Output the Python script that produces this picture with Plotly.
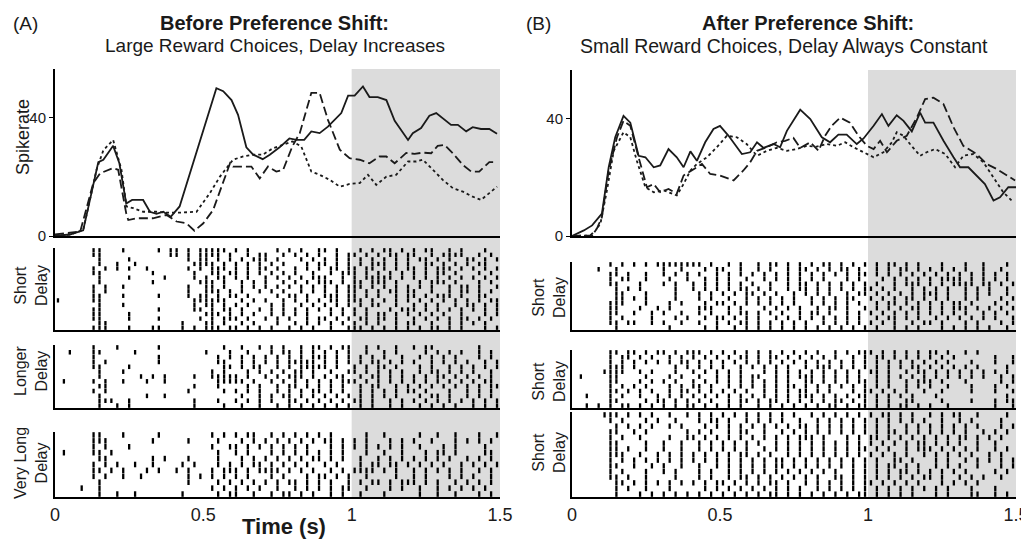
import plotly.graph_objects as go

# ---------------- PSTH data (time in s, spike rate) ----------------
left_solid_t = [0, 0.05, 0.095, 0.146, 0.163, 0.196, 0.217, 0.24, 0.26, 0.297, 0.32, 0.342, 0.365, 0.39, 0.42,
                0.544, 0.567, 0.595, 0.617, 0.645, 0.668, 0.70, 0.724, 0.757, 0.79, 0.814, 0.84, 0.864, 0.892,
                0.92, 0.965, 0.988, 1.01, 1.038, 1.06, 1.088, 1.117, 1.145, 1.19, 1.206, 1.234, 1.262, 1.285,
                1.307, 1.335, 1.358, 1.386, 1.408, 1.436, 1.464, 1.49]
left_solid_v = [0, 0.5, 1.9, 25, 25.8, 30.5, 24.6, 11, 12.2, 12.2, 8.2, 7.5, 8.2, 6.5, 10,
                50, 49, 46, 41, 30, 27.5, 26, 27.5, 30, 33, 32.5, 32.5, 35.4, 34.8,
                37, 41.6, 47.5, 47.5, 50.6, 47, 47, 46, 39, 32.5, 34.8, 36.5, 40.7, 41.6,
                39.9, 37.6, 37.6, 35.4, 36.8, 36.2, 36.2, 34.6]

left_dash_t = [0, 0.04, 0.085, 0.129, 0.152, 0.196, 0.213, 0.24, 0.247, 0.275, 0.33, 0.376, 0.41, 0.443, 0.47,
               0.50, 0.533, 0.59, 0.60, 0.634, 0.662, 0.69, 0.718, 0.746, 0.769, 0.80, 0.825, 0.864, 0.892,
               0.92, 0.96, 0.993, 1.027, 1.06, 1.094, 1.117, 1.145, 1.184, 1.212, 1.24, 1.268, 1.29, 1.313,
               1.341, 1.375, 1.403, 1.43, 1.464, 1.49]
left_dash_v = [0.5, 1, 1.5, 17.9, 21.2, 23, 22.4, 7.7, 5.4, 6, 6, 7.1, 4.9, 4.3, 1.8,
               4.3, 8.8, 24.6, 23.5, 23.5, 23.5, 19.5, 23.5, 21.8, 22.4, 30.3, 34.8, 48.4, 48.4,
               39.3, 29.2, 26.3, 25.8, 24.6, 26.9, 26.9, 24.6, 28.1, 27.8, 28.2, 28, 30.5, 30.8,
               28, 24, 21.8, 21.8, 25, 25]

left_dot_t = [0, 0.05, 0.095, 0.14, 0.163, 0.196, 0.224, 0.241, 0.264, 0.297, 0.342, 0.376, 0.42, 0.477,
              0.522, 0.556, 0.60, 0.634, 0.668, 0.70, 0.735, 0.769, 0.80, 0.83, 0.864, 0.892, 0.926, 0.96,
              0.993, 1.027, 1.055, 1.083, 1.117, 1.15, 1.19, 1.218, 1.24, 1.274, 1.307, 1.341, 1.375, 1.408,
              1.436, 1.464, 1.49]
left_dot_v = [0, 0.5, 2, 22.4, 29, 32.5, 22.4, 10, 9.4, 8.2, 8.2, 7.9, 7.9, 8.2,
              14.5, 20.1, 25.8, 26.9, 27.5, 27.5, 29.7, 30.8, 32, 30.3, 21.8, 20.7, 19, 16.7,
              17.6, 17.9, 20.7, 17.3, 20.1, 20.7, 25.2, 25.2, 25.8, 22.4, 19, 16.2, 15, 13.3,
              12.2, 14.5, 16.7]

right_solid_t = [0, 0.04, 0.068, 0.101, 0.124, 0.146, 0.174, 0.197, 0.225, 0.248, 0.276, 0.298, 0.326, 0.354,
                 0.377, 0.40, 0.422, 0.45, 0.478, 0.50, 0.529, 0.574, 0.602, 0.625, 0.647, 0.681, 0.703, 0.726,
                 0.771, 0.805, 0.844, 0.872, 0.90, 0.928, 0.962, 0.985, 1.019, 1.047, 1.069, 1.097, 1.12,
                 1.148, 1.176, 1.193, 1.221, 1.255, 1.289, 1.311, 1.339, 1.367, 1.395, 1.424, 1.446, 1.474, 1.5]
right_solid_v = [0, 1.9, 3.6, 7.6, 23.4, 33.6, 40.9, 38.6, 27.3, 26.8, 23.4, 24, 29.6, 26.8,
                 23.4, 28.8, 25.6, 31.9, 36.4, 37.5, 34.1, 27.9, 28.5, 31.9, 30, 31.3, 30.2, 35.8,
                 43, 39.8, 33.6, 31.9, 34.5, 34.5, 31.3, 33.2, 37.5, 41.5, 37.5, 41.1, 39.2,
                 35.6, 42, 38.6, 38.6, 32.4, 26.8, 23.4, 23.4, 20.6, 17.7, 12.1, 13.2, 16.6, 16.6]

right_dash_t = [0, 0.062, 0.084, 0.101, 0.124, 0.152, 0.174, 0.197, 0.225, 0.253, 0.276, 0.298, 0.326, 0.354,
                0.377, 0.405, 0.439, 0.467, 0.50, 0.546, 0.579, 0.602, 0.625, 0.658, 0.692, 0.72, 0.748,
                0.771, 0.805, 0.833, 0.855, 0.877, 0.906, 0.939, 0.968, 0.996, 1.019, 1.041, 1.064, 1.097,
                1.131, 1.165, 1.193, 1.221, 1.255, 1.289, 1.322, 1.367, 1.401, 1.435, 1.469, 1.497]
right_dash_v = [0, 0.2, 2.5, 6.4, 22.3, 33.6, 39.2, 37.5, 26.8, 16.6, 17.7, 14.9, 16, 14.4,
                20.6, 22.3, 24.5, 21.1, 20.6, 18.9, 22.3, 25.1, 29, 30.2, 31.9, 32.4, 33.4,
                30, 31.9, 29, 34.1, 37.5, 40.3, 38.6, 34.1, 30.7, 29.6, 32.4, 28.5, 32.4,
                34.1, 40.3, 46.6, 47.1, 44.9, 37, 30.7, 27.9, 24.5, 22.8, 20.6, 18.9]

right_dot_t = [0, 0.068, 0.096, 0.118, 0.141, 0.174, 0.197, 0.219, 0.248, 0.276, 0.31, 0.354, 0.377, 0.40,
               0.422, 0.456, 0.489, 0.523, 0.557, 0.59, 0.625, 0.658, 0.692, 0.726, 0.76, 0.793, 0.827,
               0.861, 0.895, 0.923, 0.951, 0.985, 1.019, 1.052, 1.081, 1.097, 1.12, 1.142, 1.176, 1.198,
               1.227, 1.261, 1.294, 1.322, 1.356, 1.39, 1.424, 1.457, 1.491]
right_dot_v = [0, 0.2, 4.2, 15.5, 29, 35.3, 33.6, 25.6, 16.6, 14.9, 15.5, 13.8, 17.7, 22.3,
               24.5, 26.8, 30.2, 34.1, 33.6, 31.3, 27.3, 29, 30, 29, 29.6, 30.7, 30.4,
               31.3, 30.7, 31.9, 30.2, 28.5, 26.8, 28.5, 31.9, 35.3, 34.1, 31.3, 27.3, 28.5,
               29.6, 27.9, 23.4, 27.3, 27.9, 25.1, 20, 14.9, 11.5]

# ---------------- Raster data: one string per trial, 20 ms bins, '|' = spike ----------------
raster_left_short = [
    "..... .||.. .|... ..|.| |.|.| ||||. |.|.. ..|.| .|..| |.|.. .|.|. ||.|. |.||. .|.|. ..|..",
    "..... .||.. ..... ....| |.|.| |||.| ..|.| |..|. |.|.| ..|.| |.|.| .||.| |..|. ||||. .|.|.",
    "..... ..|.. ..|.. ..... ..|.| |.|.| .|.|| |.|.. .|.|. |.|.| .|.|. |.|.| .||.| .|..| |.|.|",
    "..... ..|.. |..|. ..... ...|| ||.|. |.|.| .|.|. ..|.| |.|.| .|.|| |.|.| ..||. |.|.| .||..",
    "..... .|.|. |.|.. |.... ..|.| .|||. |.|.| |.|.. |.|.| .||.| |.||. |.|.| |.|.| ||.|. |.|.|",
    "..... .||.. ..... .|... ...|. .||.| |.|.| .|.|. |..|. .|.|| |.|.| .|.|. |.|.| |.|.. .|.|.",
    "..... ..|.. ..|.. ...|. ...|. |.||. |.|.. |.|.| .|.|| |..|. |.||| ||.|. |.|.| .|.|. |.|.|",
    "..... ..|.. ..... .|... ....| ||.|. .|.|. |..|. |.|.| ||.|. ||.|| |.|.. .|.|| |.|.. .|.|.",
    "..... .|.|. .|... ..... ..|.. ||.|. .|.|. |.|.| .|.|. |.|.| ||.|. |.|.| .|.|. .|.|| .|..|",
    "..... .|.|. ..... ..... ..|.. |||.| .|..| .|.|. .|.|. |.|.| |.|.| .||.| |..|. .|.|| .|.|.",
    "..... .||.. .|... ..|.. ..|.| |.|.| |.|.. ..|.| |.|.. |||.| |.|.| ..|.| |.|.| ||.|. .||..",
    "|.... .||.. ..... ..... ...|| ||||. .|.|. |..|. |.|.| .||.| ||.|. |.|.| .|.|. |.|.| .|.||",
    "..... ..|.. .|... ..... ...|. ||.|. |.|.. .|.|. .|.|. |.|.| .|.|| ..|.. |.|.| ..|.| |.|.|",
    "..... .||.. ..... ..|.. ...|| .|.|| .|..| .|.|. |.|.| .|.|. |.|.. .|.|| |.|.| .|.|. |.|.|",
    "..... .||.. ..|.. ..... ..... |||.| .|.|. .|.|. |.|.. .|.|. |.|.| |.|.| .|.|. |..|. ..|.|",
    "..... .||.. ..|.. ..|.. ....| .|.|| |.|.. |.|.| ..|.| |.|.| .||.| |.|.. |.|.| .|.|| .|.|.",
    "..... ..||. ..... ..... .|... ||.|. .|.|. ..|.. |.|.| .|.|. |.|.| ..|.| |..|. .|.|. |.|..",
    "..... .|||. ..|.. .||.. .|.|. |||.| |.|.| .|..| .|.|. .|..| ||.|. |.|.| .|.|| .|.|. ..|.|",
]
raster_left_longer = [
    "..... .|... |.... ..|.. ..... ...|. .|..| .|.|. .|.|| .|.|| ..|.| ..|.. |.||. ..... .|...",
    "..|.. .||.. ...|. ..... ..... |...| ..|.. .|.|| .|.|. |.|.| ..|.. |.|.. ..|.| .|.|. .|.|.",
    "..... .|... ..... ..|.. ..... ..|.| .|.|. |.|.| .|.|| |.|.| .|.|. |..|. .|.|. |.|.. .|.|.",
    "..... .|.|. ..... ..|.. ..... ..||. .|.|. |.|.| ||||. |.|.| .|.|| .|.|. |..|. |.|.| ..|.|",
    "..... .||.. ..|.. ..... ..... ...|| .|.|| ..|.| .|||| |.|.. |.|.| |.|.. .|.|. .|.|. |.|.|",
    "..... ..|.. .|... ..... ..... .|.|. ..|.| .|.|. ||.|. .|..| |.|.| .|.|. .|.|| .|.|. |..|.",
    "..... ..|.. ....| .|.|. ...|. .|||| |.|.. |.|.| ||.|. |.||. .|.|| .|.|. |.|.| |.|.| .|.|.",
    ".|... .|.|. .|... |..|. ..... ..||| ||.|. .|.|. |.|.| .|.|| |.|.| .|.|. |.|.| .|.|. |.||.",
    "..... ..||. ..... ..... ...|. ..|.. ..|.| ..|.| |.|.| .|.|. .|.|| ..|.| .|.|. |.|.| .|.||",
    "..... .|.|. ..... ..... ..|.. ...|. |.|.| ..|.| .|.|| .|.|. .|.|. |.|.| |.|.. .|..| .|.|.",
    "..... ..|.. ..... |..|. ..... ..... .|..| .|.|| .|.|. |.|.| .|.|. |.|.. .|.|| .|..| .|.|.",
    "..... ..||| ..|.. ..... ...|. ..|.. |.|.| .|..| |.|.| .|.|. ||.|. .|.|. |.|.| .|.|. |.|.|",
    "..... ..|.. |.|.. ..... ...|. ...|. .|..| ..|.| .|.|. |.|.| .|.|. .|.|. .|.|. |.|.. |.|.|",
]
raster_left_verylong = [
    "..... .||.. .|... ..|.. ..... .|.|. |.||. .|.|. |.|.| .|... ..|.. |.... .|..| ..|.. .|..|",
    "..... .|||. ..... .|... ..|.. ..|.. .|.|. |.|.| .|.|. ||.|. |.|.. .|.|. |..|. ..|.| .|.|.",
    "..... .|.|. ..|.. ..... ..... .|..| |.|.| .|.|. |.|.. .|.|. |.|.| .|.|. .|... |.|.. ..|..",
    ".|... .||.| ..... ..... ..... ..|.. |.|.. .|.|. |.|.| .|.|. ..|.. |..|. ..|.| |.|.. ..||.",
    "..... ..||. ..... .|.|. ..|.. ..|.. .|.|. |.|.| .|.|| .|.|. .|..| .|.|. |.|.| .|..| .|.|.",
    "..... .|.|. |..|. .|... .|.|. ..|.| .|.|| .|.|. |.|.. |.|.. .|.|| .||.| .|.|. |..|. |.|.|",
    "..... .||.| .|... |.|.. |.|.. .|.|| |.|.| |||.| .|.|. .|.|. ||||. |.|.. |.|.| .|.|. .|.|.",
    "..... .|.|. .|..| ..... ..|.| .|.|. |.|.. .|.|. ..|.| |.|.| ..|.. ..|.. |.|.. .|.|. |..|.",
    "..... ..|.. ..... ..... ..|.. ..|.| .|.|. |.|.| |.|.| .|..| .|.|| .|.|| |.|.| ..|.| .|.|.",
    "....| ..|.. ..... ..... ..... .|.|. |.|.| ..|.. |.|.| .|.|| ..|.. .|.|. .|..| .|.|. |.|..",
    "..... ..|.. |..|. ..... .|... ..|.| |..|. .|.|| .|.|. .|.|. .|... |.... .|..| ..|.. .|.|.",
]
raster_right_a = [
    "..... .|.|. |.|.| ||||| ||.|. .|.|. .|.|| .|.|. |.||. |.|.| .|.|| .|.|. ..|.. .|..| ...|.",
    "....| ..|.. ..... |..|. ..|.| |..|. .|.|. .|.|| .|.|. ||.|. .|.|. ||.|. |.|.| .|..| ..|..",
    "..... .||.| ..|.. |.|.| .|..| .|.|. |.|.| .|.|. |.|.| .|.|| .|.|. |.|.| .|.|. |.|.| .|.|.",
    "..... .|.|| ..|.. .|..| ..|.| .|..| ..|.| .|.|. |.|.. .|.|. ..|.| .|.|. |.||| |.|.| .|.|.",
    "..... .||.. .|... |.|.. |.|.| .|.|. |..|. .|.|| .|.|. |.|.| .|..| .|||. |.|.| |||.| |.|.|",
    "..... ..|.| .|... ..|.. |.|.| .|.|| .|.|. .|.|| .|.|. |.|.| |.|.| ..|.| .|.|. .|.|. |..|.",
    "..... ..||. ..|.. ..|.. .|.|. |.|.| |.|.| ..|.| .|.|. .|.|| .|.|. |.|.| ||.|. .|.|. |..|.",
    "..... ..||. |.|.. ..|.. .|.|. .|..| .|.|. |.|.. |.|.| .||.. |.|.| .||.| .|.|. .|.|. ..|.|",
    "..... .|||. ..|.. .|.|. ..|.| |.|.| .|.|. |.|.. |.|.| .|.|. .|.|| .|.|. |.|.| |.|.. .|.|.",
    "..... .||.. .|..| .|... .|||. .|.|. ..|.| .|.|. .|.|| .|..| .|.|. |.||. |.|.| ||.|. |.|.|",
    "..... .||.. |..|. |..|. .|.|. .|.|| .|.|. |..|. ||.|. .|.|. |.|.| .|.|. |.|.| .|..| .|.|.",
    "..... .|.|. ...|. ..|.| ..|.| |.|.| .|..| .|.|. |.|.| .|.|. .|.|| .|.|. .|.|. |.|.| .|..|",
    "..... .||.| |..|. |..|. .|..| .|.|| .|.|. |.|.| ..|.| .|.|. |.|.| ..|.| |.|.. .|.|. ..|.|",
    "..... ..|.. ..... .|... ..|.| ..|.| .|.|. |.|.| .|.|. |.|.| .|..| .|.|. ..|.| .|.|. |..|.",
]
raster_right_b = [
    "..... .||.| |.|.| |.|.| ||.|. |.|.| .|.|. |.|.| .|..| .|.|| |.|.| .|.|. ||.|. .|.|. .....",
    "..... .|.|| .|.|. .|.|. |.|.| .|.|| .|.|| .|.|. |.|.| ..|.| .||.| .|.|. |.|.| ..... .|..|",
    "..... .|.|. |.|.| .|.|| .|.|. |.|.| .|.|. |.|.| .|.|. |.|.| .|.|. |.|.| .|.|. ..|.. .|..|",
    "..... .|||. |.... ..|.| .|.|. |..|. |.|.| .|..| .|||. |.|.| .|.|. |.||. |.|.| .|.|. ...|.",
    "..... ||||. .|.|. ..|.. |.|.| .|.|. ..|.| .|.|. |.|.| .|.|. ||.|. .|.|| .|.|. |.|.| .|.|.",
    ".|... .||.. ..|.. .|.|. .|..| .|.|. ||..| .|.|| |.|.| .|.|. .|.|. |.|.| .|.|. |.|.| ..|.|",
    "..... .||.. .|.|. |.|.. |.|.| .|.|. |.|.| .|..| |.|.| .|.|| .|.|. .|.|| |.|.. .|... ..|.|",
    "..... .|.|. |.|.. .|.|. ||.|. .|.|. |.|.| .||.| .|.|. |.|.| .|.|. .|.|. |..|. ..|.. .|.|.",
    "..... .||.| .|.|. .|.|| .|.|. |.|.| ..|.| .|.|| .|.|. ..|.| |.|.| .|..| ..|.. ..|.. .|..|",
    "..|.. .|.|. .|..| .|.|. |.|.| .|.|. |.|.| .|.|| |.|.| .|.|| .|.|. |.|.. .|... ..... ...|.",
    "..... .||.. ..|.| |.|.| .|.|. .|.|| .|.|| .|.|. |.|.| |.|.| .|.|. .||.. ..|.. ..|.. .|.||",
    "..|.| .|.|| .|.|. |.|.| |.|.| .|.|. .|.|. |.|.| .|.|| .|.|| .|.|. ||.|. |..|. ..... .|..|",
]
raster_right_c = [
    "..... |||.| .|.|. .|..| .|.|. |.|.| .|.|. |.|.. |.|.| .|.|. |.||. |.|.. |.|.| |..|. ...|.",
    "..... .|.|. ..|.| ..|.. .|.|| .|..| .|.|. |..|. .|.|. |.|.| .|.|. |.|.| ..|.. |.|.. ..|..",
    "..... ..|.| .|.|. .|.|. ..|.| .|.|. |.|.| .|.|| .|.|. |.|.| .|.|. .|.|. |.|.| .|.|. ..|.|",
    "..... .||.. |.|.. ....| .|.|. .|.|| ..|.. |.|.| .|.|. |.|.| .|.|| .|.|. |.|.| .|..| .|.|.",
    "..... .|.|. .|... .|..| |.|.| .|.|. |.|.| .|.|| |.|.. .|.|. ||.|. |.|.| .|.|. ||.|. |.|..",
    "..... .||.. ..|.. |..|. .|.|. |.|.| .|..| .|.|. |.|.| .|.|. |.|.| .|.|| .|.|. |..|. .|...",
    "..... .||.| ..|.. |..|. .|.|. |.|.| ..|.| .|.|. |.|.| .|.|| .|.|. .|.|| |.|.| .|.|. .|.|.",
    "..... .|||. .|..| .|.|. |.|.| .|.|| .|.|. .|.|. |.|.| .|.|. |.|.| .|..| .|.|. |.|.. |.|..",
    "..... .|.|. |.|.| .|.|. |.|.| .|.|. |.|.| |.|.| .|.|. |.|.| .|..| |.|.. .|.|. .|.|. |.|.|",
    "..... .||.. |..|. |..|. .|..| .|.|. |.|.| |.|.| .|.|. |.|.| .|.|| .|.|. .|.|. |..|. ..|.|",
    "..... .|.|. ..|.. |.|.. .|.|. .|.|. |.|.| .|.|. |.|.| ..|.| .|.|. ||.|. |.|.| .|... .|.|.",
    "..... .||.| ..|.. ..|.. .|.|. .|.|| .|.|. |.|.| .|..| |.|.| .|.|. |.|.| |.|.. |.|.| ..|..",
    "..... ..||. |.|.| .|.|. |.|.| |.|.| .|.|| .|..| .|.|. |.|.| |.|.| .|.|. ..|.| .|.|. .....",
    "..... ..|.| ..|.. .|... ..|.| .|.|. |.|.| .|.|. .|.|. |.|.| .|.|. |.|.| .|.|. ..|.. .|...",
    "..... ..|.. .|.|. |.|.| .|.|. |.|.| .|.|| .|.|. |.|.| .|.|| .|.|. |.|.. .|.|. ..||. .|.|.",
]

BIN = 0.02
NBINS = 75
tick_vals = [0, 0.5, 1, 1.5]
tick_text = ["0", "0.5", "1", "1.5"]

# page has an 8 px body margin: map reference page pixels into figure fractions
OFF = 8
W, H = 1029 - OFF, 539 - OFF
def px(x): return (x - OFF) / W
def py(y): return 1 - (y - OFF) / H

fig = go.Figure()
INK = "#1a1a1a"
FONT = "Liberation Sans, Arial, sans-serif"

def add_psth(xa, ya, series):
    styles = ["solid", "9px,4px", "3px,3px"]
    for (t, v), d in zip(series, styles):
        fig.add_trace(go.Scatter(x=t, y=v, mode="lines", xaxis=xa, yaxis=ya,
                                 line=dict(color=INK, width=1.8, dash=d), showlegend=False,
                                 hoverinfo="skip"))

def add_raster(xa, ya, rows):
    n = len(rows)
    xs, ys = [], []
    for r, s in enumerate(rows):
        s = s.replace(" ", "")[:NBINS]
        base = n - r - 0.5
        for i, ch in enumerate(s):
            if ch == "|":
                t = (i + 0.5) * BIN
                xs += [t, t, None]
                ys += [base - 0.47, base + 0.47, None]
    fig.add_trace(go.Scatter(x=xs, y=ys, mode="lines", xaxis=xa, yaxis=ya,
                             line=dict(color="black", width=2.3), showlegend=False, hoverinfo="skip"))
    return n

add_psth("x", "y", [(left_solid_t, left_solid_v), (left_dash_t, left_dash_v), (left_dot_t, left_dot_v)])
n2 = add_raster("x2", "y2", raster_left_short)
n3 = add_raster("x3", "y3", raster_left_longer)
n4 = add_raster("x4", "y4", raster_left_verylong)
add_psth("x5", "y5", [(right_solid_t, right_solid_v), (right_dash_t, right_dash_v), (right_dot_t, right_dot_v)])
n6 = add_raster("x6", "y6", raster_right_a)
n7 = add_raster("x7", "y7", raster_right_b)
n8 = add_raster("x8", "y8", raster_right_c)

LX = [px(55), px(500)]
RX = [px(572), px(1016)]

def xax(dom, labels=False, anchor=None):
    d = dict(domain=dom, range=[0, 1.5], showline=True, linecolor="black", linewidth=2,
             showgrid=False, zeroline=False, ticks="", showticklabels=labels, anchor=anchor,
             automargin=False)
    if labels:
        d.update(tickvals=tick_vals, ticktext=tick_text, tickfont=dict(size=18, color=INK, family=FONT))
    return d

def yax(dom, rng, anchor, psth=False):
    d = dict(domain=dom, range=rng, showline=True, linecolor="black", linewidth=2,
             showgrid=False, zeroline=False, anchor=anchor, automargin=False)
    if psth:
        d.update(tickvals=[0, 40], ticktext=["0", "40"], ticks="outside", ticklen=4,
                 tickcolor="black", tickfont=dict(size=15, color=INK, family=FONT))
    else:
        d.update(showticklabels=False, ticks="")
    return d

layout = dict(
    width=W, height=H, margin=dict(l=0, r=0, t=0, b=0, autoexpand=False),
    paper_bgcolor="white", plot_bgcolor="rgba(0,0,0,0)",
    xaxis=xax(LX, anchor="y"), yaxis=yax([py(236), py(69)], [0, 56.5], "x", psth=True),
    xaxis2=xax(LX, anchor="y2"), yaxis2=yax([py(330), py(248)], [0, n2], "x2"),
    xaxis3=xax(LX, anchor="y3"), yaxis3=yax([py(408), py(345)], [0, n3], "x3"),
    xaxis4=xax(LX, labels=True, anchor="y4"), yaxis4=yax([py(497), py(432)], [0, n4], "x4"),
    xaxis5=xax(RX, anchor="y5"), yaxis5=yax([py(236), py(70)], [0, 56.5], "x5", psth=True),
    xaxis6=xax(RX, anchor="y6"), yaxis6=yax([py(330), py(262)], [0, n6], "x6"),
    xaxis7=xax(RX, anchor="y7"), yaxis7=yax([py(408), py(350)], [0, n7], "x7"),
    xaxis8=xax(RX, labels=True, anchor="y8"), yaxis8=yax([py(497), py(412)], [0, n8], "x8"),
    shapes=[
        dict(type="rect", xref="x", yref="paper", x0=1, x1=1.5, y0=py(497), y1=py(69),
             fillcolor="#dcdcdc", line=dict(width=0), layer="below"),
        dict(type="rect", xref="x5", yref="paper", x0=1, x1=1.5, y0=py(497), y1=py(70),
             fillcolor="#dcdcdc", line=dict(width=0), layer="below"),
    ],
)
fig.update_layout(**layout)

ann = []
def A(x, y, text, size=14, bold=False, angle=0, xanchor="center"):
    if bold:
        text = "<b>" + text + "</b>"
    ann.append(dict(x=px(x), y=py(y), xref="paper", yref="paper", text=text, showarrow=False,
                    textangle=angle, xanchor=xanchor, yanchor="middle",
                    font=dict(size=size, color=INK, family=FONT)))

A(11, 24, "(A)", 19, xanchor="left")
A(274, 23, "Before Preference Shift:", 20, bold=True)
A(275, 46, "Large Reward Choices, Delay Increases", 19)
A(524, 24, "(B)", 19, xanchor="left")
A(808, 23, "After Preference Shift:", 20, bold=True)
A(784, 46, "Small Reward Choices, Delay Always Constant", 19.5)
A(23, 137, "Spikerate", 18, angle=-90)
A(31, 286, "Short<br>Delay", 16, angle=-90)
A(31, 371, "Longer<br>Delay", 16, angle=-90)
A(31, 463, "Very Long<br>Delay", 16, angle=-90)
A(549, 298, "Short<br>Delay", 16, angle=-90)
A(549, 382, "Short<br>Delay", 16, angle=-90)
A(549, 453, "Short<br>Delay", 16, angle=-90)
A(284, 526, "Time (s)", 22, bold=True)
fig.update_layout(annotations=ann)

fig.write_html("out.html")
